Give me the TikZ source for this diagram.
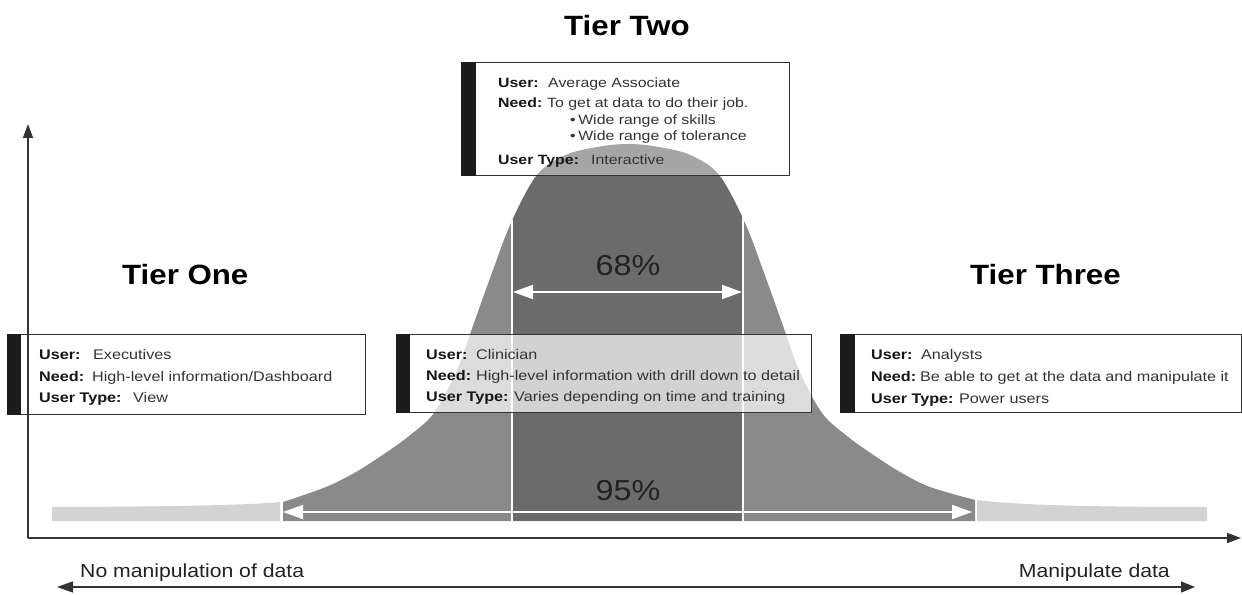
\documentclass[tikz,border=0pt]{standalone}
\usepackage{fontspec}
\setmainfont{Liberation Sans}[FakeStretch=1.12]
\newfontfamily\boxfont{Liberation Sans}[FakeStretch=1.16]
\newfontfamily\twofont{Liberation Sans}[FakeStretch=1.18]
\usetikzlibrary{arrows.meta}

\definecolor{tailgray}{HTML}{D3D3D3}
\definecolor{bodygray}{HTML}{8A8A8A}
\definecolor{coregray}{HTML}{6B6B6B}
\definecolor{inkgray}{HTML}{333333}
\definecolor{labelink}{HTML}{161616}
\definecolor{bargray}{HTML}{1C1C1C}
\definecolor{textdark}{HTML}{222222}

% a "label: value" line, value starting a fixed distance after the label start
\newcommand\fieldline[3]{\makebox[#1][l]{\color{labelink}\bfseries #2}#3}

\begin{document}
\begin{tikzpicture}[x=1bp, y=-1bp,
  infobox/.style={draw=inkgray, line width=1.1bp, fill=white, fill opacity=0.7,
    inner sep=0pt, anchor=north west},
  boxline/.style={anchor=base west, inner sep=0pt, text=inkgray,
    font=\boxfont\fontsize{14}{16}\selectfont},
  twoline/.style={anchor=base west, inner sep=0pt, text=inkgray,
    font=\twofont\fontsize{13.5}{15}\selectfont},
  tiertitle/.style={anchor=base west, inner sep=0pt, text=black,
    font=\fontsize{28}{30}\selectfont\bfseries},
  pct/.style={anchor=base, inner sep=0pt, text=textdark,
    font=\fontsize{29}{30}\selectfont},
  axis/.style={draw=inkgray, line width=1.3bp, -{Triangle[length=14bp,width=10bp]}},
  whitearrow/.style={draw=white, line width=1.8bp,
    {Triangle[length=20bp,width=14bp]}-{Triangle[length=20bp,width=14bp]}},
  divider/.style={draw=white, line width=2bp},
  bar/.style={fill=bargray}
]
\useasboundingbox (0,0) rectangle (1242,595);

% ---- tails of the distribution
\fill[tailgray] (52,521) -- (52,507)
  .. controls (150,506.8) and (245,505.5) .. (280,502) -- (280,521) -- cycle;
\fill[tailgray] (977,521) -- (977,500)
  .. controls (1020,505.5) and (1100,507) .. (1207,507) -- (1207,521) -- cycle;

% ---- body of the bell curve
\fill[bodygray] (283,521) -- plot[smooth, tension=0.55] coordinates {
  (283,502) (326,487) (356,472) (384,454) (409,436) (434,413) (457,370)
  (475,320) (493,270) (511,223) (537,175) (566,155) (598,147) (628,144)
  (658,147) (690,155) (719,175) (745,223) (763,270) (781,320) (799,370)
  (822,413) (847,436) (872,454) (900,472) (930,487) (975,500)}
  -- (975,521) -- cycle;

% ---- central band, and the white dividers, kept inside the curve
\begin{scope}
  \clip (283,521) -- plot[smooth, tension=0.55] coordinates {
    (283,502) (326,487) (356,472) (384,454) (409,436) (434,413) (457,370)
    (475,320) (493,270) (511,223) (537,175) (566,155) (598,147) (628,144)
    (658,147) (690,155) (719,175) (745,223) (763,270) (781,320) (799,370)
    (822,413) (847,436) (872,454) (900,472) (930,487) (975,500)}
    -- (975,521) -- cycle;
  \fill[coregray] (512,100) rectangle (743,521);
  \coordinate (divLtop) at (512,100);
  \coordinate (divLbot) at (512,521);
  \coordinate (divRtop) at (743,100);
  \coordinate (divRbot) at (743,521);
  \draw[divider] (divLtop) -- (divLbot);
  \draw[divider] (divRtop) -- (divRbot);
\end{scope}

% ---- spread arrows and their labels
\coordinate (s68l) at (513,292);
\coordinate (s68r) at (742,292);
\coordinate (s95l) at (283,512);
\coordinate (s95r) at (972,512);
\draw[whitearrow] (s68l) -- (s68r);
\draw[whitearrow] (s95l) -- (s95r);
\node[pct] (p68) at (628,276) {68\%};
\node[pct] (p95) at (628,500) {95\%};

% ---- information boxes
\node[infobox, minimum width=358bp, minimum height=80bp] (boxone) at (7,334) {};
\fill[bar] (boxone.north west) rectangle ([xshift=14bp]boxone.south west);
\node[boxline] (one1) at (39,359.5) {\fieldline{54bp}{User:}{Executives}};
\node[boxline] (one2) at (39,381) {\fieldline{53bp}{Need:}{High-level information/Dashboard}};
\node[boxline] (one3) at (39,402.5) {\fieldline{94bp}{User Type:}{View}};

\node[infobox, minimum width=415bp, minimum height=78bp] (boxmid) at (396,334) {};
\fill[bar] (boxmid.north west) rectangle ([xshift=14bp]boxmid.south west);
\node[boxline] (mid1) at (426,359.3) {\fieldline{50bp}{User:}{Clinician}};
\node[boxline] (mid2) at (426,380.5) {\fieldline{50bp}{Need:}{High-level information with drill down to detail}};
\node[boxline] (mid3) at (426,401.7) {\fieldline{88bp}{User Type:}{Varies depending on time and training}};

\node[infobox, minimum width=401bp, minimum height=78bp] (boxthree) at (840,334) {};
\fill[bar] (boxthree.north west) rectangle ([xshift=15bp]boxthree.south west);
\node[boxline] (three1) at (871,360) {\fieldline{50bp}{User:}{Analysts}};
\node[boxline] (three2) at (871,381.5) {\fieldline{49bp}{Need:}{Be able to get at the data and manipulate it}};
\node[boxline] (three3) at (871,403) {\fieldline{88bp}{User Type:}{Power users}};

\node[infobox, fill opacity=0.4, minimum width=328bp, minimum height=113bp] (boxtwo) at (461,62) {};
\fill[bar] (boxtwo.north west) rectangle ([xshift=15bp]boxtwo.south west);
\node[twoline] (two1) at (498,87.3) {\fieldline{50bp}{User:}{Average Associate}};
\node[twoline] (two2) at (498,107.7) {\fieldline{49bp}{Need:}{To get at data to do their job.}};
\node[twoline] (two3) at (570,125) {\textbullet\hspace{2.5bp}Wide range of skills};
\node[twoline] (two4) at (570,141) {\textbullet\hspace{2.5bp}Wide range of tolerance};
\node[twoline] (two5) at (498,165) {\fieldline{93bp}{User Type:}{Interactive}};

% ---- axes
\coordinate (origin) at (28,538);
\coordinate (ytip) at (28,124);
\coordinate (xtip) at (1241,538);
\draw[axis] (origin) -- (ytip);
\draw[axis] (origin) -- (xtip);

% ---- tier titles
\node[tiertitle] (tierone) at (122,285) {Tier One};
\node[tiertitle, anchor=base] (tiertwo) at (627,36) {Tier Two};
\node[tiertitle] (tierthree) at (970,285) {Tier Three};

% ---- manipulation scale
\coordinate (scaleL) at (57,587);
\coordinate (scaleR) at (1195,587);
\draw[draw=inkgray, line width=1.3bp,
  {Triangle[length=16bp,width=11bp]}-{Triangle[length=14bp,width=11bp]}] (scaleL) -- (scaleR);
\node[anchor=base west, inner sep=0pt, text=textdark, font=\fontsize{19}{21}\selectfont]
  (nomanip) at (80,577) {No manipulation of data};
\node[anchor=base east, inner sep=0pt, text=textdark, font=\fontsize{19}{21}\selectfont]
  (manip) at (1170,577) {Manipulate data};
\end{tikzpicture}
\end{document}
